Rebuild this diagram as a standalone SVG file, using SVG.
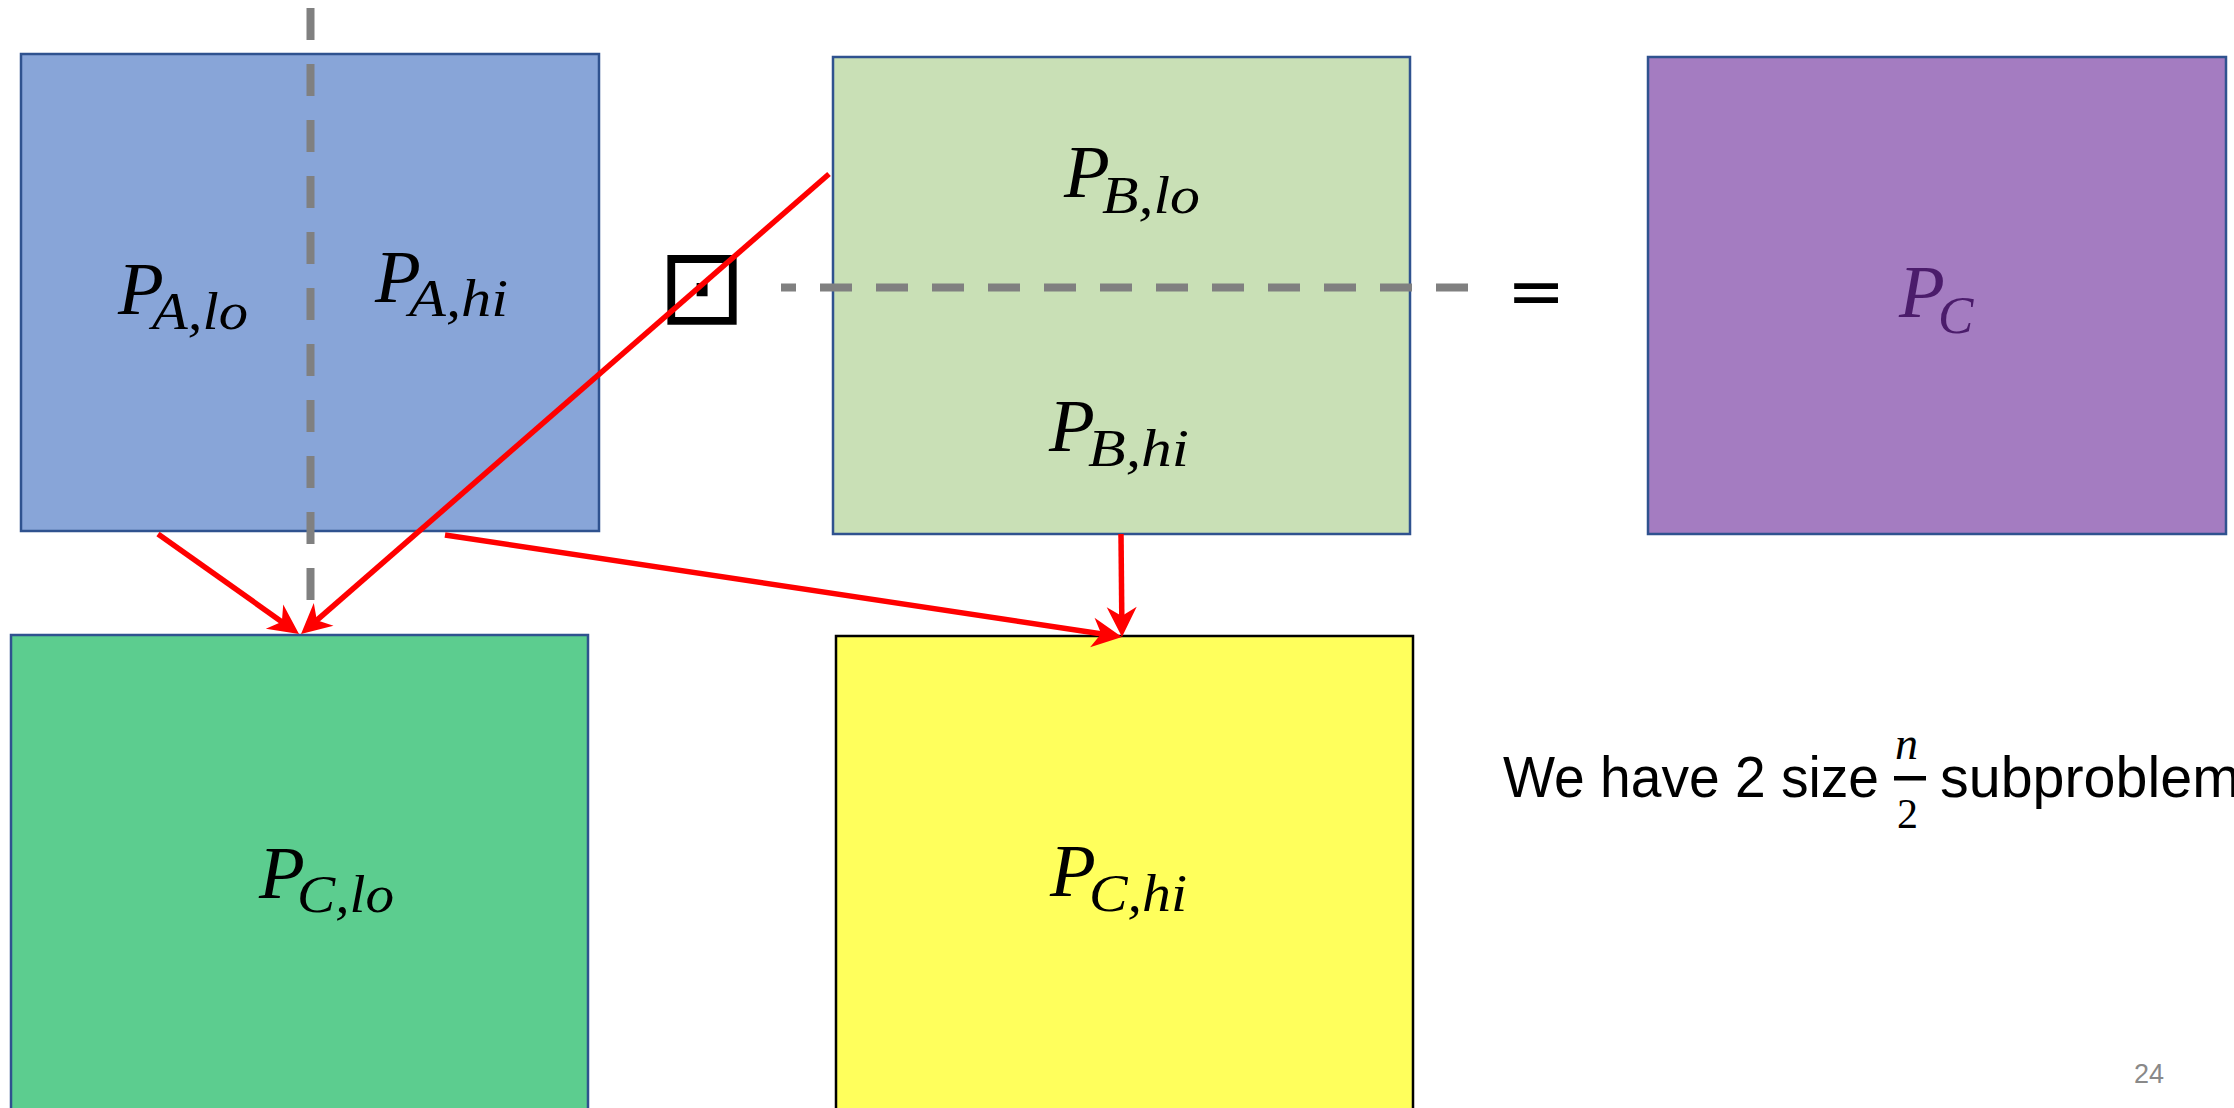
<svg xmlns="http://www.w3.org/2000/svg" width="2234" height="1108" viewBox="0 0 2234 1108">
  <defs>
    <!-- notched (stealth) arrowhead, fixed size in user units; tip sits 20px past the line end -->
    <marker id="stealth" markerUnits="userSpaceOnUse" viewBox="-16 -16 40 32" refX="0" refY="0" markerWidth="40" markerHeight="32" orient="auto">
      <path d="M20,0 L-10,-15 L-1,0 L-10,15 Z" fill="#FF0000"/>
    </marker>
  </defs>
  <style>
    .blk { stroke: #2F528F; stroke-width: 2.5; }
    .m { font-family: "Liberation Serif", "DejaVu Serif", serif; font-style: italic; font-size: 75px; fill: #000; }
    .ms { font-size: 53px; }
    .dash { stroke: #808080; stroke-width: 8; stroke-dasharray: 32 24; fill: none; }
    .red { stroke: #FF0000; stroke-width: 5.5; fill: none; marker-end: url(#stealth); }
    .body { font-family: "Liberation Sans", Arial, sans-serif; font-size: 57px; fill: #000; }
  </style>

  <rect width="2234" height="1108" fill="#FFFFFF"/>

  <!-- matrix A, split into lo / hi halves -->
  <g id="node-A">
    <rect class="blk" x="21" y="54" width="578" height="477" fill="#88A5D8"/>
    <text class="m" x="118" y="314">P<tspan class="ms" x="152" y="329" textLength="96" lengthAdjust="spacingAndGlyphs">A,lo</tspan></text>
    <text class="m" x="375" y="302">P<tspan class="ms" x="409" y="316" textLength="99" lengthAdjust="spacingAndGlyphs">A,hi</tspan></text>
  </g>

  <!-- operator between A and B -->
  <g id="op-dot">
    <text x="702" y="323" font-family="DejaVu Sans, sans-serif" font-size="106" text-anchor="middle" fill="#000">⊡</text>
  </g>

  <!-- matrix B, split into lo / hi halves -->
  <g id="node-B">
    <rect class="blk" x="833" y="57" width="577" height="477" fill="#C9E0B6"/>
    <text class="m" x="1064" y="197">P<tspan class="ms" x="1102" y="213" textLength="98" lengthAdjust="spacingAndGlyphs">B,lo</tspan></text>
    <text class="m" x="1049" y="451">P<tspan class="ms" x="1088" y="466" textLength="101" lengthAdjust="spacingAndGlyphs">B,hi</tspan></text>
  </g>

  <g id="op-eq">
    <text x="1536" y="315" font-family="DejaVu Sans, sans-serif" font-size="70" text-anchor="middle" fill="#000">=</text>
  </g>

  <!-- result C -->
  <g id="node-C">
    <rect class="blk" x="1648" y="57" width="578" height="477" fill="#A47CC1"/>
    <text class="m" x="1899" y="317" style="fill:#4B1C6B">P<tspan class="ms" x="1938" y="333">C</tspan></text>
  </g>

  <!-- lower half of C -->
  <g id="node-C-lo">
    <rect class="blk" x="11" y="635" width="577" height="520" fill="#5CCD8F"/>
    <text class="m" x="259" y="898">P<tspan class="ms" x="297" y="912" textLength="97" lengthAdjust="spacingAndGlyphs">C,lo</tspan></text>
  </g>

  <!-- upper half of C -->
  <g id="node-C-hi">
    <rect x="836" y="636" width="577" height="520" fill="#FFFF5C" stroke="#000" stroke-width="2.5"/>
    <text class="m" x="1050" y="896">P<tspan class="ms" x="1089" y="911" textLength="98" lengthAdjust="spacingAndGlyphs">C,hi</tspan></text>
  </g>

  <!-- split lines and arrows -->
  <g id="connectors">
    <line class="dash" x1="310.5" y1="8" x2="310.5" y2="600"/>
    <line class="dash" x1="781" y1="287.5" x2="1468" y2="287.5" stroke-dashoffset="17"/>
    <line class="red" x1="158" y1="534" x2="282.7" y2="622.4"/>
    <line class="red" x1="829" y1="174" x2="316.1" y2="620.9"/>
    <line class="red" x1="445" y1="535" x2="1102.2" y2="634" stroke-width="7"/>
    <line class="red" x1="1121" y1="534" x2="1121.8" y2="617" stroke-width="4.5"/>
  </g>

  <!-- caption -->
  <g id="caption">
    <text class="body" x="1503" y="797" textLength="376" lengthAdjust="spacingAndGlyphs">We have 2 size</text>
    <text x="1895" y="759" font-family="Liberation Serif, serif" font-style="italic" font-size="46" fill="#000">n</text>
    <rect x="1894" y="776" width="32" height="4.5" fill="#000"/>
    <text x="1897" y="828" font-family="Liberation Serif, serif" font-size="42" fill="#000">2</text>
    <text class="body" x="1940" y="797" textLength="300" lengthAdjust="spacingAndGlyphs">subproblem</text>
  </g>

  <text x="2134" y="1083" font-family="Liberation Sans, Arial, sans-serif" font-size="27" fill="#898989">24</text>
</svg>
